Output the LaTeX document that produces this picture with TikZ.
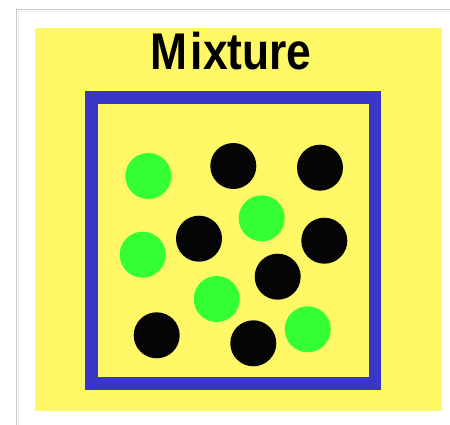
\documentclass[tikz,border=0pt]{standalone}
\usepackage{fontspec}
\setmainfont{Liberation Sans}
\definecolor{bgyellow}{RGB}{255,248,102}
\definecolor{boxblue}{RGB}{58,54,200}
\definecolor{ballgreen}{RGB}{51,255,51}
\definecolor{ballblack}{RGB}{5,5,5}
\tikzset{
  greenball/.style={circle,fill=ballgreen,draw=none,minimum size=46pt,inner sep=0pt},
  blackball/.style={circle,fill=ballblack,draw=none,minimum size=46pt,inner sep=0pt},
}
\begin{document}
\begin{tikzpicture}[x=1pt,y=-1pt]
\useasboundingbox (0,0) rectangle (450,425);
\fill[white] (0,0) rectangle (450,425);
\draw[gray!45,line width=1pt] (16.5,425) -- (16.5,9.5) -- (450,9.5);
\draw[gray!15,line width=1.5pt] (18.5,425) -- (18.5,11.5) -- (450,11.5);
\fill[bgyellow] (35,28) rectangle (441.5,410.5);
\node[font=\bfseries\fontsize{51.6}{52}\selectfont,inner sep=0pt,anchor=base,xscale=0.86] (title) at (231,70) {M\kern4pt ixture};
\draw[boxblue,line width=12.8pt] (91.3,97.5) rectangle (375,383.7);
\node[greenball] (g1) at (148.3,176) {};
\node[blackball] (b1) at (233.3,166) {};
\node[blackball] (b2) at (320,167.7) {};
\node[greenball] (g2) at (261.7,218.3) {};
\node[blackball] (b3) at (199,238.7) {};
\node[greenball] (g3) at (142.7,254.7) {};
\node[blackball] (b4) at (324.3,240.7) {};
\node[blackball] (b5) at (277.7,276.7) {};
\node[greenball] (g4) at (216.7,299) {};
\node[blackball] (b6) at (156.7,335.3) {};
\node[blackball] (b7) at (253.3,343.3) {};
\node[greenball] (g5) at (307.7,329.3) {};
\end{tikzpicture}
\end{document}
